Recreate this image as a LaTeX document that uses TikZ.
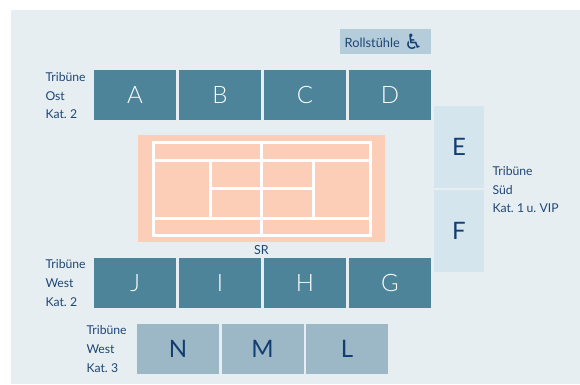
\documentclass[tikz,border=0pt]{standalone}
\usepackage{fontspec}
\setmainfont[WordSpace=0.75]{Lato}
\newfontfamily\lightf{Lato Light}
\newfontfamily\symf{DejaVu Sans}
\definecolor{pagebg}{HTML}{E6EEF2}
\definecolor{tiledark}{HTML}{4D8499}
\definecolor{tilemid}{HTML}{9CB8C6}
\definecolor{tilelight}{HTML}{D5E5EE}
\definecolor{wheelbg}{HTML}{B5CCDA}
\definecolor{courtc}{HTML}{FCCDB7}
\definecolor{navy}{HTML}{1F4674}
\definecolor{navyb}{HTML}{123D70}
\tikzset{
  tile/.style={rectangle,inner sep=0pt,outer sep=0pt,minimum width=82pt,minimum height=50pt},
  darktile/.style={tile,fill=tiledark,text=white,font=\lightf\fontsize{24}{24}\selectfont},
  midtile/.style={tile,fill=tilemid,text=navyb,font=\fontsize{24}{24}\selectfont},
  lighttile/.style={tile,fill=tilelight,text=navyb,minimum width=50pt,minimum height=82pt,font=\fontsize{24}{24}\selectfont},
  captext/.style={inner sep=0pt,outer sep=0pt,text=navy,align=left,anchor=north west,font=\fontsize{12.2}{18.6}\selectfont},
  courtline/.style={draw=white,line width=3pt},
}
\begin{document}
\begin{tikzpicture}[x=1pt,y=-1pt]
\useasboundingbox (0,0) rectangle (580,384);
\fill[white] (0,0) rectangle (580,384);
\fill[pagebg] (11,10) rectangle (580,384);
% tiles
\node[darktile] (A) at (135,95) {A};
\node[darktile] (B) at (220,95) {B};
\node[darktile] (C) at (305,95) {C};
\node[darktile] (D) at (390,95) {D};
\node[darktile] (J) at (135,283) {J};
\node[darktile] (I) at (220,283) {I};
\node[darktile] (H) at (305,283) {H};
\node[darktile] (G) at (390,283) {G};
\node[midtile] (N) at (178,349) {N};
\node[midtile] (M) at (262.5,349) {M};
\node[midtile] (L) at (347,349) {L};
\node[lighttile] (E) at (459,147) {E};
\node[lighttile] (F) at (459,231) {F};
% wheelchair box
\node[rectangle,fill=wheelbg,inner sep=0pt,minimum width=91pt,minimum height=25pt] (R) at (385.5,41.5) {};
\node[inner sep=0pt,anchor=west,text=navy,font=\fontsize{12.8}{13}\selectfont] (Rt) at (344.5,42.5) {Rollstühle};
\node[inner sep=0pt,text=navyb,font=\fontsize{21}{21}\symf] (Rs) at (413.5,41.5) {♿};
% court
\fill[courtc] (138,135) rectangle (385,242);
\draw[courtline] (153.5,142.5) rectangle (370.5,235.5);
\draw[courtline] (152,160.5) -- (372,160.5);
\draw[courtline] (152,218.5) -- (372,218.5);
\draw[courtline] (261.5,141) -- (261.5,237);
\draw[courtline] (210.5,160.5) -- (210.5,218.5);
\draw[courtline] (313.5,160.5) -- (313.5,218.5);
\draw[courtline] (210.5,188.5) -- (313.5,188.5);
% captions
\node[captext] (c1) at (45.5,72.5) {Tribüne\\Ost\\Kat. 2};
\node[captext] (c2) at (45.5,260) {Tribüne\\West\\Kat. 2};
\node[captext] (c3) at (86.5,326) {Tribüne\\West\\Kat. 3};
\node[captext] (c4) at (492.5,166.5) {Tribüne\\Süd\\Kat. 1 u. VIP};
\node[inner sep=0pt,text=navy,font=\fontsize{12.5}{13}\selectfont] (SR) at (261.5,250.5) {SR};
\end{tikzpicture}
\end{document}
